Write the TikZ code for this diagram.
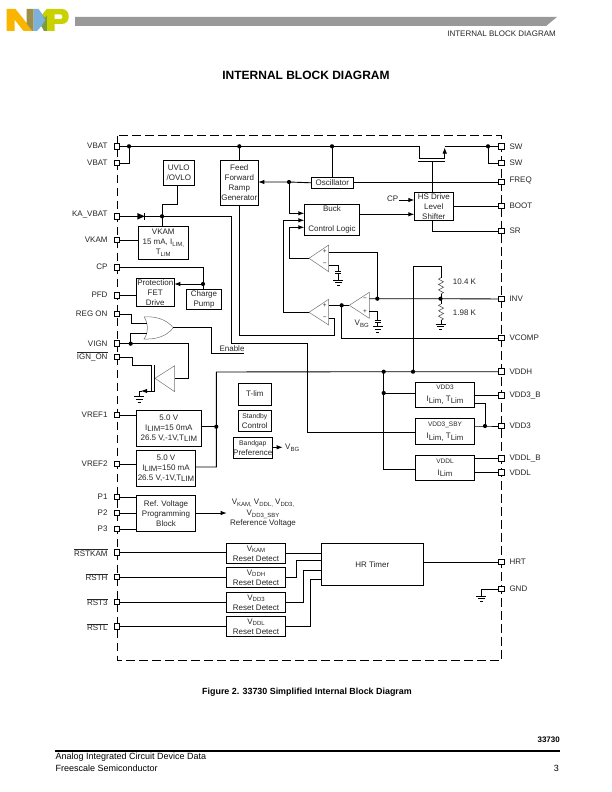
\documentclass[tikz,border=0pt]{standalone}
\usepackage{fontspec}
\setmainfont{Liberation Sans}
\usetikzlibrary{arrows.meta}
\definecolor{nxpor}{HTML}{F9B500}
\definecolor{nxpbr}{HTML}{9B8F4A}
\definecolor{nxpbl}{HTML}{7BB1DB}
\definecolor{nxpgr}{HTML}{7A9E3A}
\definecolor{nxpli}{HTML}{C9D200}
\newcommand{\dn}[1]{\raisebox{-1.6pt}{\fontsize{6}{6}\selectfont #1}}
\newcommand{\dnb}[1]{\raisebox{-1.8pt}{\fontsize{7.8}{8}\selectfont #1}}
\newcommand{\ovl}[1]{\ensuremath{\overline{\mbox{#1}}}}
\tikzset{
  wire/.style={line width=0.9pt,black,line join=miter},
  arr/.style={wire,-{Latex[length=6pt,width=4.5pt]}},
  boxs/.style={draw,line width=0.9pt,fill=white,inner sep=0pt,outer sep=0pt,align=center,font=\fontsize{8}{10}\selectfont,text=black!85},
  pinbox/.style={draw,line width=0.9pt,fill=white,minimum size=5.6pt,inner sep=0pt,outer sep=0pt},
  jdot/.style={circle,fill=black,minimum size=4.2pt,inner sep=0pt,outer sep=0pt},
  lbl/.style={font=\fontsize{8}{9}\selectfont,text=black!85,inner sep=0pt},
  gatel/.style={line width=0.5pt,black!55},
  frame/.style={line width=0.9pt,dash pattern=on 8.5pt off 4.5pt},
  resist/.style={line width=0.5pt,black!75},
}
\newcommand{\bx}[6]{%
  \pgfmathsetmacro\bxw{#4-(#2)}\pgfmathsetmacro\bxh{#5-(#3)}%
  \pgfmathsetmacro\bxx{(#2+#4)/2}\pgfmathsetmacro\bxy{(#3+#5)/2}%
  \node[boxs,minimum width=\bxw pt,minimum height=\bxh pt] (#1) at (\bxx,\bxy) {#6};}
\newcommand{\lp}[4]{\node[pinbox] (#1) at (117,#2) {};\node[lbl,anchor=east] at (107.7,#3) {#4};}
\newcommand{\rp}[4]{\node[pinbox] (#1) at (501.3,#2) {};\node[lbl,anchor=west] at (509.3,#3) {#4};}
\newcommand{\gnd}[2]{\draw[wire,line width=.7pt] (#1-5,#2) -- (#1+5,#2) (#1-3.2,#2+2.6) -- (#1+3.2,#2+2.6) (#1-1.3,#2+5.2) -- (#1+1.3,#2+5.2);}
\newcommand{\batt}[2]{\draw[wire] (#1-3,#2) -- (#1+3,#2) (#1-3,#2+2.2) -- (#1+3,#2+2.2);}
\begin{document}
\begin{tikzpicture}[x=1pt,y=-1pt]
\useasboundingbox (0,0) rectangle (612,792);
\fill[white] (0,0) rectangle (612,792);
% logo
\fill[black!40] (75,17) -- (557,17) -- (546,26) -- (75,26) -- cycle;
\fill[nxpor] (6.7,31) -- (6.7,9) -- (15.5,9) -- (33,31) -- (23.5,31) -- (14.5,19.5) -- (14.5,31) -- cycle;
\fill[nxpbr] (26.5,9) -- (33.5,9) -- (33.5,31) -- (32.5,31) -- (26.5,23.5) -- cycle;
\fill[nxpbl] (33.5,9) -- (38.5,9) -- (42.5,14.5) -- (47,20) -- (47,31) -- (44,31) -- (41.5,26) -- (37,31) -- (33.5,31) -- cycle;
\fill[nxpgr] (42.5,14.5) -- (47,9) -- (47,31) -- (44,31) -- (41.5,26) -- (45.5,20) -- cycle;
\fill[nxpli] (42.5,14.5) -- (47,9) -- (62,9) .. controls (71,9) and (71,24) .. (62,24) -- (54.5,24) -- (54.5,31) -- (47,31) -- (47,15) -- (45,17.5) -- cycle;
\fill[white] (54.5,14.5) -- (60.5,14.5) .. controls (63,14.5) and (63,19) .. (60.5,19) -- (54.5,19) -- cycle;
% page text
\node[lbl,anchor=east] (hdr) at (556,33.3) {INTERNAL BLOCK DIAGRAM};
\node[inner sep=0pt,font=\bfseries\fontsize{12}{14}\selectfont] (ttl) at (306,75) {INTERNAL BLOCK DIAGRAM};
\node[inner sep=0pt,font=\bfseries\fontsize{8.9}{10}\selectfont] (cap) at (307,692.7) {Figure 2. 33730 Simplified Internal Block Diagram};
\node[inner sep=0pt,anchor=east,font=\bfseries\fontsize{8}{10}\selectfont] (pn) at (560,740) {33730};
\coordinate (rl) at (55,751);\coordinate (rr) at (560,751);
\draw[line width=1.6pt] (rl) -- (rr);
\node[inner sep=0pt,anchor=west,font=\fontsize{9}{11}\selectfont] (f1) at (55.5,757) {Analog Integrated Circuit Device Data};
\node[inner sep=0pt,anchor=west,font=\fontsize{9}{11}\selectfont] (f2) at (55.5,768) {Freescale Semiconductor};
\node[inner sep=0pt,anchor=east,font=\fontsize{9}{11}\selectfont] (f3) at (559,768) {3};
% frame
\draw[frame] (117.5,135.5) rectangle (501.5,660);
% pins
\lp{pVa}{146.3}{145.7}{VBAT}
\lp{pVb}{163}{162.3}{VBAT}
\lp{pKA}{216.3}{214.7}{KA\_VBAT}
\lp{pKM}{240}{239.5}{VKAM}
\lp{pCP}{267.7}{266.3}{CP}
\lp{pPF}{295.7}{294.7}{PFD}
\lp{pRO}{314}{313.3}{REG ON}
\lp{pVI}{343.7}{343.3}{VIGN}
\lp{pIG}{357}{356.3}{\ovl{IGN\_ON}}
\lp{pR1}{415}{414.3}{VREF1}
\lp{pR2}{464}{463.7}{VREF2}
\lp{pP1}{497}{496.7}{P1}
\lp{pP2}{513}{512.7}{P2}
\lp{pP3}{529}{528.3}{P3}
\lp{pRK}{552.7}{552.7}{\ovl{RSTKAM}}
\lp{pRH}{577}{577}{\ovl{RSTH}}
\lp{pR3}{602}{602}{\ovl{RST3}}
\lp{pRL}{626.7}{627}{\ovl{RSTL}}
\rp{qS1}{146.3}{146.3}{SW}
\rp{qS2}{163}{163}{SW}
\rp{qFR}{182}{180.3}{FREQ}
\rp{qBO}{206}{205.3}{BOOT}
\rp{qSR}{231}{231}{SR}
\rp{qIN}{299}{298.3}{INV}
\rp{qVC}{338}{338}{VCOMP}
\rp{qVH}{371.7}{371.3}{VDDH}
\rp{qB3}{395.7}{395.3}{VDD3\_B}
\rp{qV3}{426}{425.3}{VDD3}
\rp{qLB}{458.7}{458.3}{VDDL\_B}
\rp{qVL}{472.7}{472.3}{VDDL}
\rp{qHR}{562}{561.3}{HRT}
\rp{qGN}{589}{588.3}{GND}
% boxes
\bx{uvlo}{163.3}{160.7}{194.3}{185}{UVLO\\/OVLO}
\bx{feed}{220.3}{160.7}{258.3}{205.3}{\fontsize{8}{9}\selectfont Feed\\Forward\\Ramp\\Generator}
\bx{vkam}{138.3}{226.7}{188.3}{259.3}{\fontsize{8}{9.5}\selectfont VKAM\\15 mA, I\dn{LIM,}\\T\dn{LIM}}
\bx{prot}{136.3}{278.7}{174.3}{306.3}{\fontsize{8}{9}\selectfont Protection\\FET\\Drive}
\bx{chg}{186.3}{289.3}{221.7}{309.3}{\fontsize{8}{9}\selectfont Charge\\Pump}
\bx{osc}{311.3}{177.3}{353.3}{188.3}{Oscillator}
\bx{buck}{304.3}{204.3}{359.7}{235.3}{\fontsize{8}{9.5}\selectfont Buck\\[0pt]\mbox{}\\Control Logic}
\bx{hs}{414.3}{192.3}{453.3}{220}{\fontsize{8}{9}\selectfont HS Drive\\Level\\Shifter}
\bx{tlim}{238.3}{383.3}{271.3}{405}{\raisebox{2pt}{T-lim}}
\bx{stby}{238.3}{410.7}{271.3}{431.3}{\fontsize{6.8}{9}\selectfont Standby\\Control}
\bx{bgap}{234.3}{437.3}{271.3}{458.3}{\fontsize{6.8}{8}\selectfont Bandgap\\Preference}
\bx{ref1}{136.3}{410.3}{201.3}{446.3}{\fontsize{8}{10.5}\selectfont 5.0 V\\I\dnb{LIM}=15 0mA\\26.5 V,-1V,T\dnb{LIM}}
\bx{ref2}{136.3}{450.3}{195.7}{486}{\fontsize{8}{10.5}\selectfont 5.0 V\\I\dnb{LIM}=150 mA\\26.5 V,-1V,T\dnb{LIM}}
\bx{rvp}{136.3}{495.7}{195.7}{531.3}{\fontsize{8}{11.5}\selectfont Ref. Voltage\\Programming\\Block}
\bx{vd3}{415.3}{382.7}{474.7}{407.3}{{\fontsize{6.5}{8}\selectfont VDD3}\\[2pt]I\dnb{Lim,} T\dnb{Lim}}
\bx{sby}{415.3}{418.7}{474.7}{444}{{\fontsize{6.5}{8}\selectfont VDD3\_SBY}\\[2pt]I\dnb{Lim,} T\dnb{Lim}}
\bx{vdl}{415.3}{455.3}{474.7}{480.3}{{\fontsize{6.5}{8}\selectfont VDDL}\\[2pt]I\dnb{Lim}}
\bx{rkam}{226.3}{543.7}{285.7}{563.3}{\fontsize{8}{9}\selectfont V\dn{KAM}\\Reset Detect}
\bx{rddh}{226.3}{567.3}{285.7}{587.3}{\fontsize{8}{9}\selectfont V\dn{DDH}\\Reset Detect}
\bx{rdd3}{226.3}{592.3}{285.7}{612.3}{\fontsize{8}{9}\selectfont V\dn{DD3}\\Reset Detect}
\bx{rddl}{226.3}{616.3}{285.7}{636.3}{\fontsize{8}{9}\selectfont V\dn{DDL}\\Reset Detect}
\bx{hrt}{321.3}{543.7}{423.3}{585}{HR Timer}
% junction dots
\node[jdot] (j1) at (129,146.3) {};
\node[jdot] (j2) at (239.3,146.3) {};
\node[jdot] (j3) at (332,146.3) {};
\node[jdot] (j4) at (488,146.3) {};
\node[jdot] (j5) at (289,182) {};
\node[jdot] (j6) at (162,216.3) {};
\node[jdot] (j7) at (203,284) {};
\node[jdot] (j8) at (130.7,343.7) {};
\node[jdot] (j9) at (377.3,298.7) {};
\node[jdot] (j10) at (341.7,305.3) {};
\node[jdot] (j11) at (440.5,298.7) {};
\node[jdot] (j12) at (383.7,371.7) {};
\node[jdot] (j13) at (413,371.7) {};
\node[jdot] (j14) at (383.7,393) {};
\node[jdot] (j15) at (216.3,426.7) {};
\node[jdot] (j16) at (485,426) {};
% supply rail and mosfet
\coordinate (mL) at (419.3,158);\coordinate (mR) at (444.7,158);
\coordinate (gL) at (418.3,161.7);\coordinate (gR) at (445,161.7);
\draw[wire] (pVa) -- (j1.center) -- (j2.center) -- (j3.center) -- (419.3,146.3) -- (mL) -- (mR);
\draw[arr] (mR) -- (444.7,147.5);
\draw[wire] (444.7,146.3) -- (j4.center) -- (qS1);
\draw[wire] (gL) -- (gR);
\draw[wire] (pVb) -| (j1.center);
\draw[wire] (qS2) -| (j4.center);
\draw[wire] (j2.center) -- (feed.north -| j2);
\draw[wire] (j3.center) -- (osc.north -| j3);
% frequency
\draw[wire] (qFR) -- (osc.east |- qFR);
\draw[arr] (osc.west) -- (j5.center) -- (feed.east |- j5);
\draw[arr] (j5.center) |- (304.3,213.3);
% hs
\coordinate (cpS) at (399.3,200);
\draw[arr] (cpS) -- (cpS -| hs.west);
\node[lbl] (cpL) at (392.7,199) {CP};
\draw[arr] (buck.east |- 0,214.3) -- (hs.west |- 0,214.3);
\draw[wire] (hs.north -| 432.3,0) -- (gR -| 432.3,0);
\draw[wire] (hs.south -| 432.3,0) |- (qSR);
\draw[wire] (hs.east |- qBO) -- (qBO);
% ka
\coordinate (dA) at (137.3,216.3);\coordinate (dB) at (144.7,216.3);
\draw[wire] (pKA) -- (j6.center) -- (231.5,216.3) -- (231.5,343.3) -- (307.5,343.3) -- (307.5,432) -- (sby.west |- 0,432);
\fill (dA) ++(0,-3.3) -- ++(7.4,3.3) -- ++(-7.4,3.3) -- cycle;
\draw[wire] (144.7,212.8) -- (144.7,219.8);
\draw[wire] (uvlo.south -| 177.3,0) |- (162,204) -- (j6.center);
\draw[wire] (j6.center) -- (vkam.north -| j6);
\draw[wire] (pKM) -- (vkam.west |- pKM);
% cp / prot
\draw[wire] (pCP) -| (j7.center);
\draw[wire] (j7.center) -- (chg.north -| j7);
\draw[arr] (j7.center) -- (prot.east |- j7);
\draw[wire] (pPF) -- (prot.west |- pPF);
% or gate
\coordinate (oT) at (144,317);\coordinate (oB) at (144,339);\coordinate (oO) at (173.3,327.7);
\draw[gatel] (oT) .. controls (148.5,323) and (148.5,333) .. (oB) .. controls (155,339.5) and (166,337) .. (oO) .. controls (166,319) and (155,316) .. (oT);
\draw[wire] (pRO) -| (131.3,323.7) -- (147,323.7);
\draw[wire] (j8.center) -- (130.7,333.7) -- (147,333.7);
\draw[wire] (oO) -- (211.7,327.7) -- (211.7,353.3) -- (244,353.3);
\node[lbl] (enb) at (232,348.7) {Enable};
\draw[wire] (pVI) -- (j8.center) -- (188.3,343.7) -- (188.3,378.3) -- (174.7,378.3);
% ign_on
\coordinate (tT) at (174.7,365.7);\coordinate (tB) at (174.7,391.7);\coordinate (tL) at (155,378.3);
\draw[gatel] (tT) -- (tL) -- (tB) -- cycle;
\draw[wire] (pIG) -| (132.3,365.3) -- (151.7,365.3) -- (151.7,391);
\draw[wire] (154.7,365.3) -- (154.7,391);
\draw[arr] (154.7,391) -- (141,391);
\draw[wire] (142,391) -- (139.3,391) -- (139.3,396.7);
\gnd{139.3}{396.7}
% comparators
\coordinate (c1t) at (309,258.3);
\draw[gatel] (328.7,245) -- (c1t) -- (328.7,271.7) -- cycle;
\node[lbl,font=\fontsize{6.5}{6}\selectfont] (c1p) at (324.7,251.5) {+};
\node[lbl,font=\fontsize{6.5}{6}\selectfont] (c1m) at (324.7,264.8) {\textminus};
\draw[wire] (328.7,252) -| (j9.center);
\draw[wire] (328.7,265) -- (338.3,265) -- (338.3,271.7);
\batt{338.3}{271.7}
\draw[wire] (338.3,273.9) -- (338.3,280);
\gnd{338.3}{280}
\coordinate (c2t) at (309,312.3);
\draw[gatel] (328.7,299.3) -- (c2t) -- (328.7,325) -- cycle;
\node[lbl,font=\fontsize{6.5}{6}\selectfont] (c2p) at (324.7,305.5) {+};
\node[lbl,font=\fontsize{6.5}{6}\selectfont] (c2m) at (324.7,318.5) {\textminus};
\draw[wire] (328.7,305.3) -- (j10.center);
\draw[wire] (328.7,318.3) -- (334.3,318.3) -- (334.3,335) -- (239.5,335) -- (feed.south -| 239.5,0);
\coordinate (c3t) at (349.3,305.3);
\draw[gatel] (369.3,292.3) -- (c3t) -- (369.3,318.3) -- cycle;
\node[lbl,font=\fontsize{6.5}{6}\selectfont] (c3m) at (365,298.8) {\textminus};
\node[lbl,font=\fontsize{6.5}{6}\selectfont] (c3p) at (365,312) {+};
\draw[wire] (j10.center) -- (c3t);
\draw[wire] (369.3,298.7) -- (j9.center) -- (j11.center) -- (qIN);
\draw[wire] (369.3,311.7) -- (377.7,311.7) -- (377.7,320.5);
\batt{377.7}{320.5}
\draw[wire] (377.7,322.7) -- (377.7,326.7);
\gnd{377.7}{326.7}
\node[lbl] (vbgl) at (361.7,323.7) {V\dn{BG}};
\draw[wire] (j10.center) |- (qVC);
% into buck
\draw[arr] (c1t) -- (289.3,258.3) -- (289.3,227.3) -- (304.3,227.3);
\draw[arr] (c2t) -- (283.3,312.3) -- (283.3,220.3) -- (304.3,220.3);
% divider
\draw[wire] (j13.center) -- (413,266.3) -- (441,266.3) -- (441,277.7);
\draw[resist] (441,277.7) -- ++(-2.5,1.4) -- ++(5,2.7) -- ++(-5,2.7) -- ++(5,2.7) -- ++(-5,2.7) -- ++(5,2.7) -- ++(-2.5,1.4);
\draw[wire] (441,294) -- (441,298.7);
\draw[wire] (441,298.7) -- (441,304);
\draw[resist] (441,304) -- ++(-2.5,1.4) -- ++(5,2.7) -- ++(-5,2.7) -- ++(5,2.7) -- ++(-5,2.7) -- ++(5,2.7) -- ++(-2.5,1.4);
\draw[wire] (441,320) -- (441,324);
\gnd{440.5}{324}
\node[lbl,anchor=west] (r1) at (452.7,281.3) {10.4 K};
\node[lbl,anchor=west] (r2) at (452.7,312.3) {1.98 K};
% rails
\draw[wire] (ref2.east |- 0,467) -| (216.3,372) -- (j12.center) -- (j13.center) -- (qVH);
\draw[wire] (ref1.east |- j15) -- (j15.center);
\draw[wire] (pR1) -- (ref1.west |- pR1);
\draw[wire] (pR2) -- (ref2.west |- pR2);
\draw[wire] (pP1) -- (rvp.west |- pP1);
\draw[wire] (pP2) -- (rvp.west |- pP2);
\draw[wire] (pP3) -- (rvp.west |- pP3);
\draw[arr] (rvp.east |- pP2) -- (226.7,513);
\node[lbl,align=center,font=\fontsize{8}{10.5}\selectfont] (vrt) at (263,513.5) {V\dn{KAM,} V\dn{DDL,} V\dn{DD3,}\\V\dn{DD3\_SBY}\\Reference Voltage};
\draw[arr] (bgap.east |- 0,447.3) -- (282.7,447.3);
\node[lbl,anchor=west] (vbg) at (285,447.5) {V\dn{BG}};
\draw[wire] (j12.center) |- (vdl.west |- 0,469);
\draw[wire] (j14.center) -- (vd3.west |- j14);
% right outputs
\draw[wire] (vd3.east |- qB3) -- (qB3);
\draw[wire] (sby.east |- qV3) -- (j16.center) -- (qV3);
\draw[wire] (vd3.east |- 0,403.3) -| (j16.center);
\draw[wire] (vdl.east |- qLB) -- (qLB);
\draw[wire] (vdl.east |- qVL) -- (qVL);
% resets
\draw[wire] (pRK) -- (rkam.west |- pRK);
\draw[wire] (pRH) -- (rddh.west |- pRH);
\draw[wire] (pR3) -- (rdd3.west |- pR3);
\draw[wire] (pRL) -- (rddl.west |- pRL);
\draw[wire] (rkam.east |- 0,553.3) -- (hrt.west |- 0,553.3);
\draw[wire] (rddh.east |- pRH) -| (296,560.3) -- (hrt.west |- 0,560.3);
\draw[wire] (rdd3.east |- pR3) -| (303,570.3) -- (hrt.west |- 0,570.3);
\draw[wire] (rddl.east |- pRL) -| (310.3,579.3) -- (hrt.west |- 0,579.3);
\draw[wire] (hrt.east |- qHR) -- (qHR);
\draw[wire] (qGN) -| (481.3,596);
\gnd{481.3}{596}
\end{tikzpicture}
\end{document}
